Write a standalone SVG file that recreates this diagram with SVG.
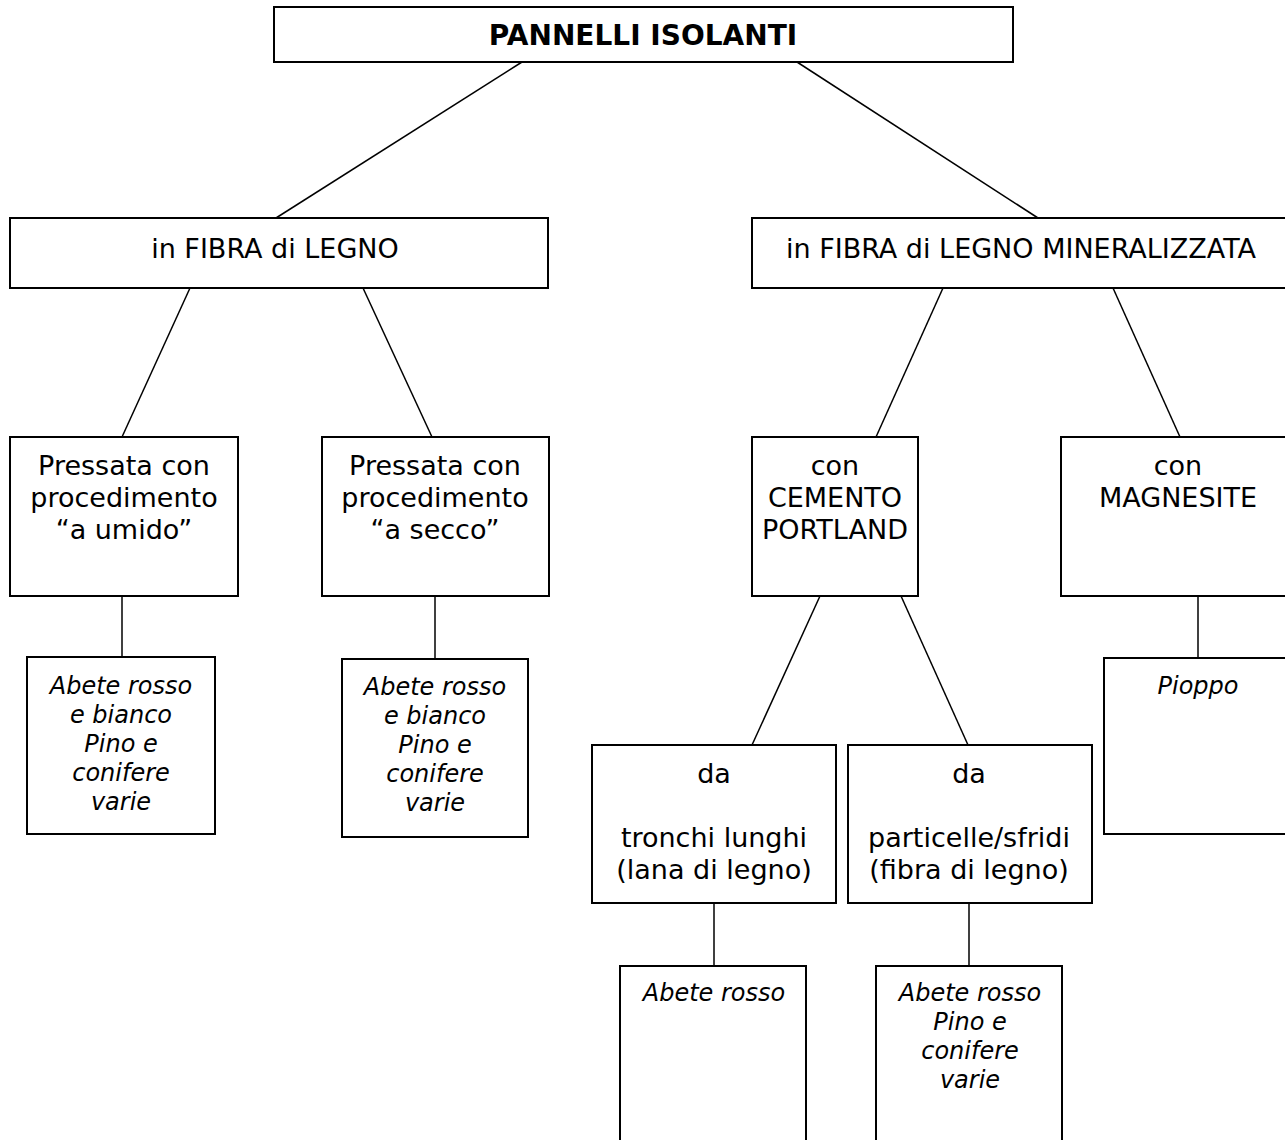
<svg xmlns="http://www.w3.org/2000/svg" width="1285" height="1140" viewBox="0 0 1285 1140">
<style>
.box{fill:#fff;stroke:#000;stroke-width:2}
.t{font-family:"DejaVu Sans","Verdana",sans-serif;font-size:27px;text-anchor:middle;fill:#000}
.b{font-weight:bold;font-size:28px}
.i{font-style:italic;font-size:24px}
.c line{stroke:#000;stroke-width:1.5}
</style>
<rect width="1285" height="1140" fill="#fff"/>
<g class="c" id="connectors">
<line x1="522" y1="62" x2="276" y2="218"/>
<line x1="797" y1="62" x2="1038" y2="218"/>
<line x1="190" y1="288" x2="122" y2="437"/>
<line x1="363" y1="288" x2="432" y2="437"/>
<line x1="943" y1="288" x2="876" y2="437"/>
<line x1="1113" y1="288" x2="1180" y2="437"/>
<line x1="122" y1="596" x2="122" y2="657"/>
<line x1="435" y1="596" x2="435" y2="659"/>
<line x1="1198" y1="596" x2="1198" y2="658"/>
<line x1="820" y1="596" x2="752" y2="745"/>
<line x1="901" y1="596" x2="968" y2="745"/>
<line x1="714" y1="903" x2="714" y2="966"/>
<line x1="969" y1="903" x2="969" y2="966"/>
</g>
<g id="root"><rect class="box" x="274" y="7" width="739" height="55"/><text class="t b" x="643" y="45">PANNELLI ISOLANTI</text></g>
<g id="fibra"><rect class="box" x="10" y="218" width="538" height="70"/><text class="t" x="275" y="258">in FIBRA di LEGNO</text></g>
<g id="mineral"><rect class="box" x="752" y="218" width="545" height="70"/><text class="t" x="1021" y="258">in FIBRA di LEGNO MINERALIZZATA</text></g>
<g id="umido"><rect class="box" x="10" y="437" width="228" height="159"/><text class="t" x="124" y="475">Pressata con<tspan x="124" y="507">procedimento</tspan><tspan x="124" y="539">“a umido”</tspan></text></g>
<g id="secco"><rect class="box" x="322" y="437" width="227" height="159"/><text class="t" x="435" y="475">Pressata con<tspan x="435" y="507">procedimento</tspan><tspan x="435" y="539">“a secco”</tspan></text></g>
<g id="cemento"><rect class="box" x="752" y="437" width="166" height="159"/><text class="t" x="835" y="475">con<tspan x="835" y="507">CEMENTO</tspan><tspan x="835" y="539">PORTLAND</tspan></text></g>
<g id="magnesite"><rect class="box" x="1061" y="437" width="236" height="159"/><text class="t" x="1178" y="475">con<tspan x="1178" y="507">MAGNESITE</tspan></text></g>
<g id="leaf1"><rect class="box" x="27" y="657" width="188" height="177"/><text class="t i" x="121" y="694">Abete rosso<tspan x="121" y="723">e bianco</tspan><tspan x="121" y="752">Pino e</tspan><tspan x="121" y="781">conifere</tspan><tspan x="121" y="810">varie</tspan></text></g>
<g id="leaf2"><rect class="box" x="342" y="659" width="186" height="178"/><text class="t i" x="435" y="695">Abete rosso<tspan x="435" y="724">e bianco</tspan><tspan x="435" y="753">Pino e</tspan><tspan x="435" y="782">conifere</tspan><tspan x="435" y="811">varie</tspan></text></g>
<g id="pioppo"><rect class="box" x="1104" y="658" width="193" height="176"/><text class="t i" x="1198" y="694">Pioppo</text></g>
<g id="tronchi"><rect class="box" x="592" y="745" width="244" height="158"/><text class="t" x="714" y="783">da<tspan x="714" y="847">tronchi lunghi</tspan><tspan x="714" y="879">(lana di legno)</tspan></text></g>
<g id="particelle"><rect class="box" x="848" y="745" width="244" height="158"/><text class="t" x="969" y="783">da<tspan x="969" y="847">particelle/sfridi</tspan><tspan x="969" y="879">(fibra di legno)</tspan></text></g>
<g id="leaf3"><rect class="box" x="620" y="966" width="186" height="190"/><text class="t i" x="714" y="1001">Abete rosso</text></g>
<g id="leaf4"><rect class="box" x="876" y="966" width="186" height="190"/><text class="t i" x="970" y="1001">Abete rosso<tspan x="970" y="1030">Pino e</tspan><tspan x="970" y="1059">conifere</tspan><tspan x="970" y="1088">varie</tspan></text></g>
</svg>
